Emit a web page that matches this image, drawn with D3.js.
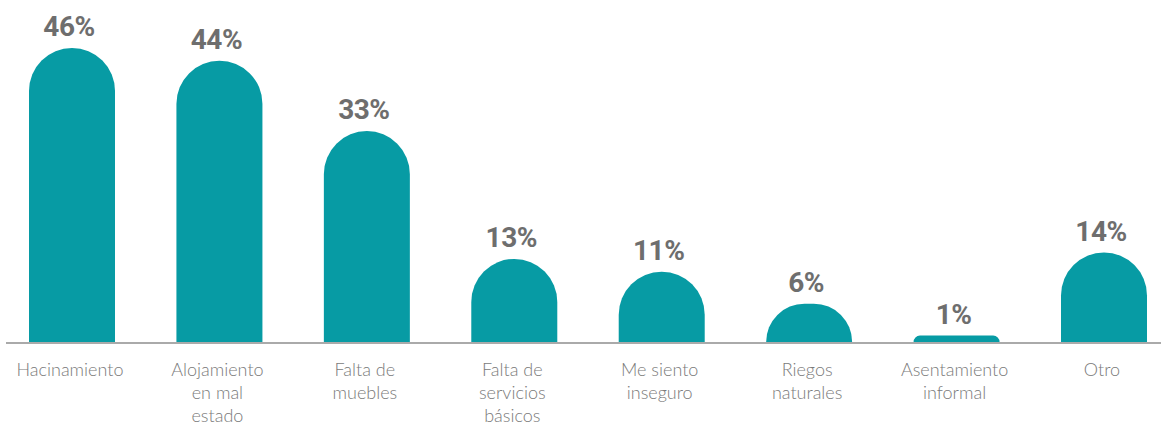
<!DOCTYPE html>
<html>
<head>
<meta charset="utf-8">
<script src="https://cdn.jsdelivr.net/npm/d3@7"></script>
<style>
  body { margin: 0; background: #fff; }
  svg { display: block; }
</style>
</head>
<body>
<svg id="chart"></svg>
<script>
// categories (label lines) and values in %
const categories = [
  ["Hacinamiento"],
  ["Alojamiento", "en mal", "estado"],
  ["Falta de", "muebles"],
  ["Falta de", "servicios", "básicos"],
  ["Me siento", "inseguro"],
  ["Riegos", "naturales"],
  ["Asentamiento", "informal"],
  ["Otro"]
];
const values = [46, 44, 33, 13, 11, 6, 1, 14];

const width = 1161, height = 427;
const baseY = 342;
const barW = 86;

const svg = d3.select("#chart")
  .attr("width", width)
  .attr("height", height);

const keys = categories.map(c => c.join(" "));

const x = d3.scalePoint()
  .domain(keys)
  .range([72, 1104]);

const y = d3.scaleLinear()
  .domain([0, 46])
  .range([baseY, 48]);

// bar with rounded top: radius capped by half width and bar height
function barPath(cx, v) {
  const top = y(v), h = baseY - top;
  const r = Math.min(barW / 2, h);
  const x0 = cx - barW / 2, x1 = cx + barW / 2;
  return `M${x0},${baseY} L${x0},${top + r} A${r},${r} 0 0 1 ${x0 + r},${top}` +
    ` L${x1 - r},${top} A${r},${r} 0 0 1 ${x1},${top + r} L${x1},${baseY} Z`;
}

const data = keys.map((k, i) => ({ key: k, lines: categories[i], value: values[i] }));

svg.selectAll("path.bar")
  .data(data)
  .join("path")
  .attr("class", "bar")
  .attr("d", d => barPath(x(d.key), d.value))
  .attr("fill", "#079ba4");

// baseline
svg.append("line")
  .attr("x1", 6).attr("x2", width)
  .attr("y1", baseY + 1).attr("y2", baseY + 1)
  .attr("stroke", "#aaaaaa")
  .attr("stroke-width", 2);

// value labels
svg.selectAll("text.val")
  .data(data)
  .join("text")
  .attr("class", "val")
  .attr("x", d => x(d.key) - 3)
  .attr("y", d => y(d.value) - 12)
  .attr("text-anchor", "middle")
  .attr("font-family", "Roboto, sans-serif")
  .attr("font-weight", 700)
  .attr("font-size", "28px")
  .attr("letter-spacing", "-0.5px")
  .attr("fill", "#6e6e6e")
  .text(d => d.value + "%");

// category labels
const lab = svg.selectAll("text.cat")
  .data(data)
  .join("text")
  .attr("class", "cat")
  .attr("text-anchor", "middle")
  .attr("font-family", "Lato, sans-serif")
  .attr("font-weight", 300)
  .attr("font-size", "18px")
  .attr("fill", "#7a7a7a");

lab.selectAll("tspan")
  .data(d => d.lines.map(l => ({ l, cx: x(d.key) })))
  .join("tspan")
  .attr("x", t => t.cx - 2)
  .attr("y", (t, i) => 376 + i * 23)
  .text(t => t.l);
</script>
</body>
</html>
